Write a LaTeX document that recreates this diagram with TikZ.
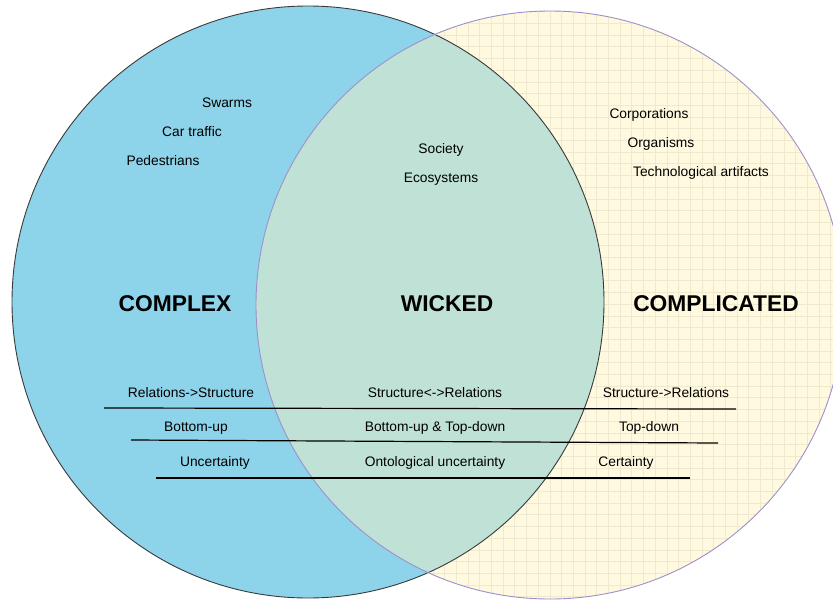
\documentclass[tikz,border=0pt]{standalone}
\usepackage{fontspec}
\setmainfont{Liberation Sans}
\usepackage{tikz}
\usetikzlibrary{positioning}

\definecolor{complexblue}{HTML}{8DD3EA}
\definecolor{wickedgreen}{HTML}{C0E2D6}
\definecolor{complicatedyellow}{HTML}{FFF9DF}
\definecolor{gridtan}{HTML}{EFE9D0}
\definecolor{rimgrey}{HTML}{3A3A3A}
\definecolor{rimpurple}{HTML}{9E8FCB}

\tikzset{
  item/.style={draw=none, inner sep=0pt, font=\fontsize{13.8}{16}\selectfont},
  heading/.style={draw=none, inner sep=0pt, font=\fontsize{22.8}{27}\selectfont\bfseries},
  rule/.style={line width=1.2pt, black}
}

\begin{document}
\begin{tikzpicture}[x=1pt, y=-1pt]
    \useasboundingbox (0,0) rectangle (833,600);
    % the two sets
    \coordinate (cxleft) at (308,302);
    \coordinate (cxright) at (550,305);
    \fill[complexblue] (cxleft) circle[radius=296];
    \begin{scope}
        \clip (cxright) circle[radius=294];
        \fill[complicatedyellow] (cxright) circle[radius=294];
        \draw[gridtan, line width=0.7pt, step=11.7pt] (240,-5) grid (850,610);
    \end{scope}
    \begin{scope}
        \clip (cxleft) circle[radius=296];
        \fill[wickedgreen] (cxright) circle[radius=294];
    \end{scope}
    \draw[rimgrey, line width=0.9pt] (cxleft) circle[radius=296];
    \draw[rimpurple, line width=0.9pt] (cxright) circle[radius=294];

    % examples
    \node[item] at (227,103) (swarms) {Swarms} ;
    \node[item] at (192,132) (traffic) {Car traffic} ;
    \node[item] at (163,161) (pedestrians) {Pedestrians} ;
    \node[item] at (441,150) (society) {Society} ;
    \node[item] at (441,179) (ecosystems) {Ecosystems} ;
    \node[item] at (649,115) (corporations) {Corporations} ;
    \node[item] at (661,144) (organisms) {Organisms} ;
    \node[item] at (701,173) (artifacts) {Technological artifacts} ;

    % set names
    \node[heading] at (175,304) (complex) {COMPLEX} ;
    \node[heading] at (447,304) (wicked) {WICKED} ;
    \node[heading] at (716,304) (complicated) {COMPLICATED} ;

    % properties
    \node[item] at (191,393) (relstruct) {Relations->Structure} ;
    \node[item] at (435,393) (bothways) {Structure<->Relations} ;
    \node[item] at (666,393) (structrel) {Structure->Relations} ;
    \node[item] at (196,428) (bottomup) {Bottom-up} ;
    \node[item] at (435,428) (mixed) {Bottom-up \& Top-down} ;
    \node[item] at (649,428) (topdown) {Top-down} ;
    \node[item] at (215,463) (uncertain) {Uncertainty} ;
    \node[item] at (435,463) (ontological) {Ontological uncertainty} ;
    \node[item] at (626,463) (certain) {Certainty} ;

    % separators
    \coordinate (ruleAl) at (104,408);
    \coordinate (ruleAr) at (736,409);
    \coordinate (ruleBl) at (131,440);
    \coordinate (ruleBr) at (718,443);
    \coordinate (ruleCl) at (156,478);
    \coordinate (ruleCr) at (690,478);
    \draw[rule] (ruleAl) -- (ruleAr);
    \draw[rule] (ruleBl) -- (ruleBr);
    \draw[rule] (ruleCl) -- (ruleCr);
\end{tikzpicture}
\end{document}
